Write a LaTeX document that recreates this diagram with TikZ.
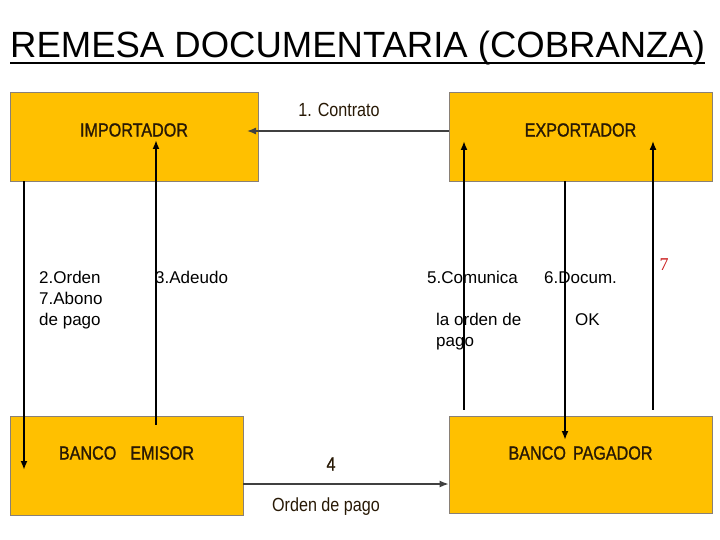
\documentclass[tikz,border=0pt]{standalone}
\usepackage{fontspec}
\setmainfont{Liberation Sans}
\newfontfamily\narrow[FakeStretch=0.85]{Liberation Sans}
\newfontfamily\narrowb[FakeStretch=0.85,FakeBold=1.2]{Liberation Sans}
\newfontfamily\serifa{Liberation Serif}
\usetikzlibrary{arrows.meta,calc,positioning}
\definecolor{oro}{RGB}{255,192,0}
\definecolor{tinta}{RGB}{40,25,5}
\definecolor{rojo}{RGB}{200,20,20}

\begin{document}
\begin{tikzpicture}[x=1pt,y=-1pt,
caja/.style={draw=tinta!55,fill=oro,line width=0.8pt,inner sep=0pt},
rot/.style={text=tinta,font=\narrow\fontsize{19}{19}\selectfont},
rotb/.style={text=tinta,font=\narrowb\fontsize{19}{19}\selectfont},
txt/.style={font=\fontsize{17}{21}\selectfont,align=left,anchor=north west,inner sep=0pt},
flecha/.style={-{Latex[length=9pt,width=7pt]},line width=1.8pt}]
\useasboundingbox (0,0) rectangle (720,540);
\path
(10,58)      node[anchor=base west,inner sep=0pt,font=\fontsize{36.5}{40}\selectfont] (tit) {REMESA DOCUMENTARIA (COBRANZA)}
(134,136.5)  node[caja,minimum width=248,minimum height=89,label={[rotb,yshift=6.5pt]center:IMPORTADOR}] (imp) {}
(580.5,136.5) node[caja,minimum width=263,minimum height=89,label={[rotb,yshift=6.5pt]center:EXPORTADOR}] (exp) {}
(126.5,465.5) node[caja,minimum width=233,minimum height=99,label={[rotb,yshift=12.5pt]center:BANCO\hspace{14pt}EMISOR}] (emi) {}
(580.5,464.5) node[caja,minimum width=263,minimum height=97,label={[rotb,yshift=11.5pt]center:BANCO\hspace{7pt}PAGADOR}] (pag) {}
(339,110)    node[rot] (l1) {1. Contrato}
(39,271)     node[txt] (l2) {2.Orden\\7.Abono\\de pago}
(155,271)    node[txt] (l3) {3.Adeudo}
(331,464)    node[rotb] (l4) {4}
(326,507)    node[rot] (l4b) {Orden de pago}
(427,271)    node[txt] (l5) {5.Comunica}
(436,313)    node[txt] (l5b) {la orden de\\pago}
(544,271)    node[txt] (l6) {6.Docum.}
(575,313)    node[txt] (l6b) {OK}
(664,265)    node[text=rojo,font=\serifa\fontsize{18}{18}\selectfont] (l7) {7}
;
\draw[line width=2pt] ([yshift=-5pt]tit.base west) -- ([yshift=-5pt]tit.base east);
% puntas de las flechas
\coordinate (p1) at (247,131);
\coordinate (p2) at (24,470);
\coordinate (p3) at (156,140);
\coordinate (p4) at (449,484);
\coordinate (p5) at (464,141);
\coordinate (p6) at (565,440);
\coordinate (p7) at (653,141);
\draw[flecha,line width=1.4pt,draw=black!75] (exp.west |- p1) -- (p1);
\draw[flecha,line width=1.4pt,draw=black!75] (emi.east |- p4) -- (pag.west |- p4);
\draw[flecha] (imp.south -| p2) -- (p2);
\draw[flecha] ($(emi.north -| p3)+(0,9)$) -- (p3);
\draw[flecha] ($(pag.north -| p5)+(0,-6)$) -- (p5);
\draw[flecha] (exp.south -| p6) -- (p6);
\draw[flecha,line width=1.4pt] ($(pag.north -| p7)+(0,-6)$) -- (p7);
\end{tikzpicture}
\end{document}
